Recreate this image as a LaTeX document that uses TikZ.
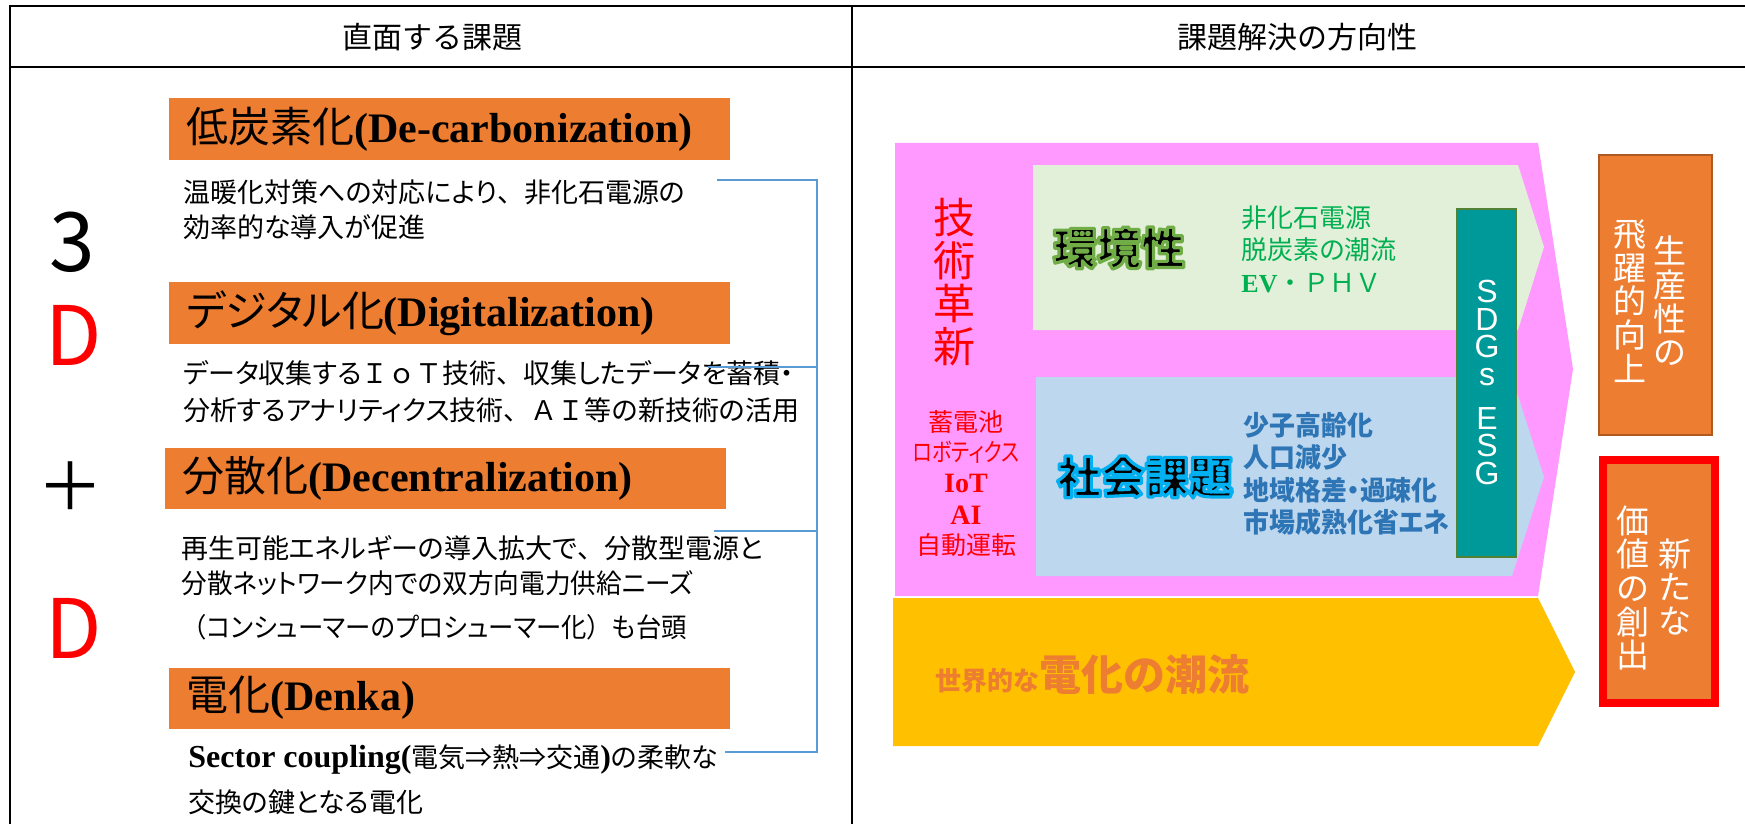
\documentclass[tikz,border=0pt]{standalone}
\usepackage{fontspec}
\setmainfont{Liberation Serif}
\setsansfont{Liberation Sans}
\newfontfamily\jp{Noto Sans CJK JP}
\newfontfamily\jpp{Noto Sans CJK JP}[RawFeature=+palt]
\newcommand\fsz[2]{\fontsize{#1}{#2}\selectfont}
\newcommand\tb[1]{{\rmfamily\bfseries #1}}
\newcommand\ten{{\jp 、}}
% outlined text: fill black, stroke in glow colour (text render mode 2)
\newcommand\halo[2]{\special{pdf:literal 2 Tr 1.6 w 1 j #1 RG}#2\special{pdf:literal 0 Tr}}
\definecolor{barorange}{HTML}{ED7D31}
\definecolor{pinkc}{HTML}{FF99FF}
\definecolor{greenc}{HTML}{E2F0D9}
\definecolor{bluec}{HTML}{BDD7EE}
\definecolor{yellowc}{HTML}{FFC000}
\definecolor{tealc}{HTML}{009999}
\definecolor{olivec}{HTML}{548235}
\definecolor{brownc}{HTML}{AE5A21}
\definecolor{bracketc}{HTML}{5B9BD5}
\definecolor{txtgreen}{HTML}{00B050}
\definecolor{txtblue}{HTML}{2E75B6}
\begin{document}
\begin{tikzpicture}[x=0.5pt,y=-0.5pt,
  tline/.style={line width=1.3pt, black},
  bar/.style={fill=barorange},
  bartext/.style={anchor=west, inner sep=0pt, font=\jp\fsz{21pt}{22pt}},
  desc/.style={anchor=west, inner sep=0pt, font=\jpp\fsz{13.5pt}{14pt}},
  big/.style={inner sep=0pt, font=\jp\fsz{41pt}{41pt}},
  bracket/.style={draw=bracketc, line width=0.6pt},
  vert/.style={inner sep=0pt, align=center, text=white, font=\jp\fsz{16.5pt}{16.8pt}},
  redsmall/.style={inner sep=0pt, text=red, font=\jpp\fsz{12.5pt}{13pt}},
  greentxt/.style={anchor=west, inner sep=0pt, text=txtgreen, font=\jpp\fsz{13pt}{13pt}},
  bluetxt/.style={anchor=west, inner sep=0pt, text=txtblue, font=\jpp\bfseries\fsz{13.5pt}{13.5pt}},
  sdg/.style={anchor=north, inner sep=0pt, align=center, text=white, font=\sffamily\fsz{16pt}{13.75pt}}]
\useasboundingbox (0,0) rectangle (1745,824);
\fill[white] (0,0) rectangle (1745,824);
% table
\draw[tline] (10,6) -- (1745,6);
\draw[tline] (10,67) -- (1745,67);
\draw[tline] (10,5) -- (10,824);
\draw[tline] (852,5) -- (852,824);
\node[inner sep=0pt, font=\jp\fsz{15pt}{15pt}] (h1) at (432,37) {直面する課題};
\node[inner sep=0pt, font=\jp\fsz{15pt}{15pt}] (h2) at (1297,37) {課題解決の方向性};
% left bars
\fill[bar] (169,98) rectangle (730,160);
\fill[bar] (169,282) rectangle (730,344);
\fill[bar] (165,448) rectangle (726,509);
\fill[bar] (169,668) rectangle (730,729);
\node[bartext] (b1) at (186,129) {低炭素化\tb{(De-carbonization)}};
\node[bartext] (b2) at (186,313) {{\jpp デジタル}化\tb{(Digitalization)}};
\node[bartext] (b3) at (182,478) {分散化\tb{(Decentralization)}};
\node[bartext] (b4) at (186,698) {電化\tb{(Denka)}};
% descriptions
\node[desc] (t1a) at (183,192) {温暖化対策への対応により\ten 非化石電源の};
\node[desc] (t1b) at (183,227) {効率的な導入が促進};
\node[desc] (t2a) at (183,373) {データ収集する{\jp ＩｏＴ}技術\ten 収集したデータを蓄積・};
\node[desc] (t2b) at (183,410) {分析するアナリティクス技術\ten{\jp ＡＩ}等の新技術の活用};
\node[desc] (t3a) at (181,548) {再生可能エネルギーの導入拡大で\ten 分散型電源と};
\node[desc] (t3b) at (181,583) {\scalebox{0.95}[1]{分散ネットワーク内での双方向電力供給ニーズ}};
\node[desc] (t3c) at (181,627) {\scalebox{0.94}[1]{{\jp （}コンシューマーのプロシューマー化{\jp ）}も台頭}};
\node[desc] (t4a) at (188,760) {{\rmfamily\bfseries\fsz{16pt}{16pt}Sector coupling(}電気⇒熱⇒交通{\rmfamily\bfseries\fsz{16pt}{16pt})}の柔軟な};
\node[desc] (t4b) at (188,802) {交換の鍵となる電化};
% big letters
\node[big] (n3) at (72,242) {3};
\node[big, text=red] (nd1) at (74,335) {D};
\node[big, font=\jp\fsz{33pt}{33pt}] (np) at (71,486) {＋};
\node[big, text=red] (nd2) at (74,628) {D};
% bracket
\coordinate (k1) at (717,180);
\coordinate (k2) at (817,180);
\coordinate (k3) at (817,752);
\coordinate (k4) at (725,752);
\coordinate (k5) at (708,367);
\coordinate (k6) at (817,367);
\coordinate (k7) at (714,531);
\coordinate (k8) at (817,531);
\draw[bracket] (k1) -- (k2) -- (k3) -- (k4);
\draw[bracket] (k5) -- (k6);
\draw[bracket] (k7) -- (k8);
% right chevrons
\fill[pinkc] (895,143) -- (1538,143) -- (1573,369) -- (1538,596) -- (895,596) -- cycle;
\fill[greenc] (1033,165) -- (1518,165) -- (1544,247) -- (1518,330) -- (1033,330) -- cycle;
\fill[bluec] (1036,377) -- (1512,377) -- (1544,477) -- (1512,576) -- (1036,576) -- cycle;
\fill[yellowc] (893,598) -- (1538,598) -- (1575,672) -- (1538,746) -- (893,746) -- cycle;
\draw[fill=tealc, draw=olivec, line width=1pt] (1457,209) rectangle (1516,557);
\node[sdg] (sdgs) at (1487,280) {S\\D\\G\\s};
\node[sdg] (esg) at (1487,407) {E\\S\\G};
% pink texts
\node[inner sep=0pt, align=center, text=red, font=\jp\fsz{21pt}{21.5pt}] (gk) at (954,282) {技\\術\\革\\新};
\node[redsmall] (r1) at (966,422) {蓄電池};
\node[redsmall] (r2) at (966,452) {\scalebox{0.8}[1]{ロボティクス}};
\node[redsmall, font=\rmfamily\bfseries\fsz{14pt}{14pt}] (r3) at (966,483) {IoT};
\node[redsmall, font=\rmfamily\bfseries\fsz{14pt}{14pt}] (r4) at (966,515) {AI};
\node[redsmall] (r5) at (966,545) {自動運転};
% green area
\node[inner sep=0pt, font=\jp\bfseries\fsz{22pt}{22pt}] (kk) at (1119,248) {\halo{0.439 0.678 0.278}{環境性}};
\node[greentxt] (g1) at (1241,218) {非化石電源};
\node[greentxt] (g2) at (1241,250) {脱炭素の潮流};
\node[greentxt] (g3) at (1241,283) {\tb{EV}{\jp ・ＰＨＶ}};
% blue area
\node[inner sep=0pt, font=\jp\bfseries\fsz{22pt}{22pt}] (sk) at (1145,477) {\halo{0 0.69 0.94}{社会課題}};
\node[bluetxt] (s1) at (1243,425) {\scalebox{0.96}[1]{少子高齢化}};
\node[bluetxt] (s2) at (1243,457) {\scalebox{0.96}[1]{人口減少}};
\node[bluetxt] (s3) at (1243,490) {\scalebox{0.96}[1]{地域格差・過疎化}};
\node[bluetxt] (s4) at (1243,522) {\scalebox{0.96}[1]{市場成熟化省エネ}};
% yellow text
\node[anchor=base west, inner sep=0pt, text=barorange, font=\jp\bfseries] (yt) at (935,690) {{\fsz{13pt}{13pt}世界的な}{\fsz{21pt}{21pt}電化の潮流}};
% right boxes
\draw[fill=barorange, draw=brownc, line width=1pt] (1599,155) rectangle (1712,435);
\node[vert] (p1) at (1670,301) {生\\産\\性\\の};
\node[vert] (p2) at (1630,301) {飛\\躍\\的\\向\\上};
\draw[fill=barorange, draw=red, line width=4pt] (1603,460) rectangle (1715,703);
\node[vert] (v1) at (1675,587) {新\\た\\な};
\node[vert] (v2) at (1633,588) {価\\値\\の\\創\\出};
\end{tikzpicture}
\end{document}
